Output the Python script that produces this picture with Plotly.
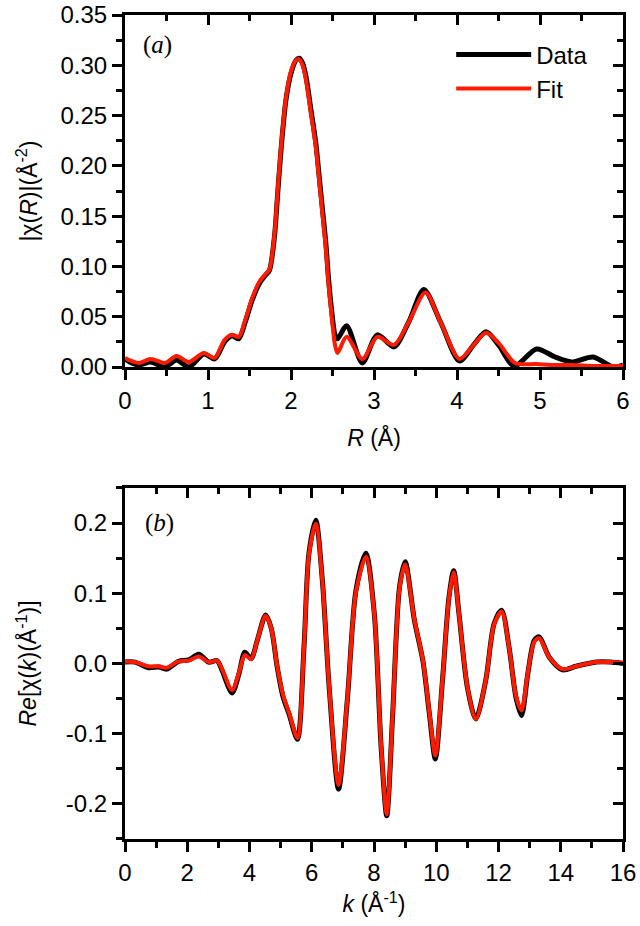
import plotly.graph_objects as go

# ---------------- data: panel (a) |chi(R)| ----------------
R_data = [0, 0.08, 0.17, 0.31, 0.48, 0.62, 0.77, 0.95, 1.08, 1.2, 1.29, 1.37, 1.45, 1.53, 1.62, 1.70,
          1.74, 1.80, 1.84, 1.88, 1.94, 2.00, 2.06, 2.10, 2.14, 2.18, 2.24, 2.30, 2.34, 2.38, 2.42,
          2.45, 2.49, 2.53, 2.56, 2.67, 2.86, 3.04, 3.24, 3.42, 3.60, 3.80, 4.03, 4.20, 4.35, 4.50,
          4.69, 4.96, 5.18, 5.38, 5.64, 5.88, 6.0]
chiR_data = [0.008, 0.004, 0.002, 0.005, 0.0, 0.007, 0.0, 0.013, 0.008, 0.025, 0.031, 0.028, 0.045,
             0.066, 0.083, 0.092, 0.096, 0.129, 0.173, 0.216, 0.266, 0.292, 0.305, 0.307, 0.302,
             0.289, 0.256, 0.222, 0.189, 0.156, 0.123, 0.090, 0.056, 0.032, 0.028, 0.041, 0.004,
             0.032, 0.020, 0.045, 0.077, 0.045, 0.006, 0.022, 0.035, 0.022, 0.001, 0.018, 0.010,
             0.005, 0.010, 0.000, 0.002]
R_fit = [0, 0.08, 0.17, 0.31, 0.48, 0.62, 0.77, 0.95, 1.08, 1.2, 1.29, 1.37, 1.45, 1.53, 1.62, 1.70,
         1.74, 1.80, 1.84, 1.88, 1.94, 2.00, 2.06, 2.10, 2.14, 2.18, 2.24, 2.30, 2.34, 2.38, 2.42,
         2.45, 2.49, 2.53, 2.56, 2.67, 2.86, 3.04, 3.24, 3.42, 3.62, 3.80, 4.03, 4.20, 4.35, 4.50,
         4.70, 4.96, 5.18, 5.38, 5.64, 5.88, 6.0]
chiR_fit = [0.009, 0.006, 0.004, 0.008, 0.004, 0.011, 0.005, 0.014, 0.009, 0.027, 0.032, 0.030, 0.047,
            0.068, 0.085, 0.093, 0.097, 0.131, 0.176, 0.219, 0.268, 0.294, 0.305, 0.306, 0.300,
            0.286, 0.252, 0.218, 0.185, 0.151, 0.118, 0.085, 0.050, 0.022, 0.014, 0.030, 0.008,
            0.030, 0.022, 0.045, 0.074, 0.045, 0.008, 0.022, 0.034, 0.024, 0.004, 0.003, 0.002,
            0.002, 0.001, 0.001, 0.001]

# ---------------- data: panel (b) Re[chi(k)] ----------------
k_vals = [0, 0.32, 0.75, 1.08, 1.34, 1.72, 2.04, 2.37, 2.69, 2.96, 3.12, 3.44, 3.66, 3.85, 4.05,
          4.25, 4.52, 4.70, 4.89, 5.08, 5.27, 5.54, 5.75, 5.91, 6.13, 6.34, 6.56, 6.86, 7.15, 7.42,
          7.74, 8.01, 8.23, 8.41, 8.60, 8.82, 9.0, 9.30, 9.57, 9.78, 9.97, 10.2, 10.41, 10.56,
          10.73, 11.0, 11.27, 11.59, 11.86, 12.10, 12.34, 12.56, 12.74, 12.94, 13.15, 13.31,
          13.63, 14.06, 14.49, 15.14, 15.6, 16.0]
chik_data = [0.002, 0.002, -0.006, -0.005, -0.008, 0.003, 0.005, 0.013, 0.002, 0.004, -0.010,
             -0.042, -0.015, 0.016, 0.007, 0.033, 0.069, 0.050, -0.005, -0.048, -0.072, -0.108,
             0.023, 0.157, 0.204, 0.119, -0.034, -0.179, -0.048, 0.104, 0.157, 0.071, -0.120,
             -0.217, -0.072, 0.109, 0.145, 0.061, 0.004, -0.072, -0.136, -0.024, 0.095, 0.132,
             0.071, -0.034, -0.079, -0.024, 0.057, 0.076, 0.023, -0.048, -0.074, -0.015, 0.033,
             0.038, 0.009, -0.009, -0.004, 0.002, 0.002, 0.0]
chik_fit = [0.003, 0.002, -0.004, -0.004, -0.006, 0.003, 0.004, 0.010, 0.002, 0.004, -0.008,
            -0.038, -0.013, 0.012, 0.006, 0.033, 0.068, 0.050, -0.004, -0.045, -0.070, -0.106,
            0.023, 0.155, 0.199, 0.118, -0.033, -0.173, -0.047, 0.102, 0.152, 0.070, -0.118,
            -0.215, -0.071, 0.107, 0.141, 0.062, 0.005, -0.070, -0.131, -0.023, 0.094, 0.130,
            0.071, -0.033, -0.079, -0.024, 0.056, 0.074, 0.023, -0.046, -0.067, -0.014, 0.031,
            0.036, 0.009, -0.008, -0.004, 0.002, 0.002, 0.001]

y2_ticks = [-0.2, -0.1, 0.0, 0.1, 0.2]
y2_ticktext = ["-0.2", "-0.1", "0.0", "0.1", "0.2"]

FONT = "Liberation Sans, Arial, sans-serif"
SERIF = "Liberation Serif, Times New Roman, serif"
BLACK = "#000000"
RED = "#ff1a00"

fig = go.Figure()
fig.add_trace(go.Scatter(x=R_data, y=chiR_data, mode="lines", name="Data",
                         line=dict(color=BLACK, width=5, shape="spline", smoothing=0.8),
                         xaxis="x", yaxis="y"))
fig.add_trace(go.Scatter(x=R_fit, y=chiR_fit, mode="lines", name="Fit",
                         line=dict(color=RED, width=4, shape="spline", smoothing=0.8),
                         xaxis="x", yaxis="y"))
fig.add_trace(go.Scatter(x=k_vals, y=chik_data, mode="lines", name="Data", showlegend=False,
                         line=dict(color=BLACK, width=5, shape="spline", smoothing=0.8),
                         xaxis="x2", yaxis="y2"))
fig.add_trace(go.Scatter(x=k_vals, y=chik_fit, mode="lines", name="Fit", showlegend=False,
                         line=dict(color=RED, width=4, shape="spline", smoothing=0.8),
                         xaxis="x2", yaxis="y2"))
# dummy traces so the mirrored (inside-tick) axes are drawn
fig.add_trace(go.Scatter(x=[None], y=[None], xaxis="x3", yaxis="y3", showlegend=False, hoverinfo="skip"))
fig.add_trace(go.Scatter(x=[None], y=[None], xaxis="x4", yaxis="y4", showlegend=False, hoverinfo="skip"))

tickfont = dict(family=FONT, size=24, color=BLACK)
common = dict(showgrid=False, zeroline=False, showline=True, linewidth=3, linecolor=BLACK,
              tickcolor=BLACK, tickwidth=3, ticklen=10, tickfont=tickfont, automargin=False)

top_dom = [0.5728, 1.0]
bot_dom = [0.0, 0.426]

fig.update_layout(
    width=640, height=926,
    margin=dict(l=125, r=17, t=15, b=87),
    paper_bgcolor="white", plot_bgcolor="white",
    font=dict(family=FONT, color=BLACK),
    xaxis=dict(domain=[0, 1], anchor="y", range=[0, 6], dtick=1, tick0=0, ticks="outside",
               minor=dict(dtick=0.5, ticklen=6, tickwidth=3, ticks="outside", tickcolor=BLACK),
               title=dict(text="<i>R</i> (Å)", font=dict(family=FONT, size=23), standoff=18),
               **common),
    yaxis=dict(domain=top_dom, anchor="x", range=[0, 0.35], dtick=0.05, tick0=0, ticks="outside",
               tickformat=".2f",
               minor=dict(dtick=0.025, ticklen=6, tickwidth=3, ticks="outside", tickcolor=BLACK),
               title=dict(text="|χ(<i>R</i>)|(Å<sup>-2</sup>)", font=dict(family=FONT, size=23), standoff=17),
               **common),
    xaxis3=dict(overlaying="x", anchor="y", side="top", range=[0, 6], dtick=1, tick0=0,
                ticks="inside", showticklabels=False,
                minor=dict(dtick=0.5, ticklen=6, tickwidth=3, ticks="inside", tickcolor=BLACK),
                **common),
    yaxis3=dict(overlaying="y", anchor="x", side="right", range=[0, 0.35], dtick=0.05, tick0=0,
                ticks="inside", showticklabels=False,
                minor=dict(dtick=0.025, ticklen=6, tickwidth=3, ticks="inside", tickcolor=BLACK),
                **common),
    xaxis2=dict(domain=[0, 1], anchor="y2", range=[0, 16], dtick=2, tick0=0, ticks="outside",
                minor=dict(dtick=1, ticklen=6, tickwidth=3, ticks="outside", tickcolor=BLACK),
                title=dict(text="<i>k</i> (Å<sup>-1</sup>)", font=dict(family=FONT, size=23), standoff=12),
                **common),
    yaxis2=dict(domain=bot_dom, anchor="x2", range=[-0.25, 0.25], tickvals=y2_ticks,
                ticktext=y2_ticktext, ticks="outside",
                minor=dict(dtick=0.05, tick0=0, ticklen=6, tickwidth=3, ticks="outside", tickcolor=BLACK),
                title=dict(text="<i>Re</i>[χ(<i>k</i>)(Å<sup>-1</sup>)]", font=dict(family=FONT, size=23), standoff=23),
                **common),
    xaxis4=dict(overlaying="x2", anchor="y2", side="top", range=[0, 16], dtick=2, tick0=0,
                ticks="inside", showticklabels=False,
                minor=dict(dtick=1, ticklen=6, tickwidth=3, ticks="inside", tickcolor=BLACK),
                **common),
    yaxis4=dict(overlaying="y2", anchor="x2", side="right", range=[-0.25, 0.25], tickvals=y2_ticks,
                ticks="inside", showticklabels=False,
                minor=dict(dtick=0.05, tick0=0, ticklen=6, tickwidth=3, ticks="inside", tickcolor=BLACK),
                **common),
    legend=dict(x=0.655, y=0.979, xanchor="left", yanchor="top", bgcolor="rgba(0,0,0,0)",
                font=dict(family=FONT, size=24, color=BLACK), itemwidth=75, tracegroupgap=0),
    showlegend=True,
    annotations=[
        dict(text="(<i>a</i>)", x=0.066, y=0.9636, xref="paper", yref="paper", showarrow=False,
             xanchor="center", yanchor="middle",
             font=dict(family=SERIF, size=25, color=BLACK)),
        dict(text="(<i>b</i>)", x=0.07, y=0.3835, xref="paper", yref="paper", showarrow=False,
             xanchor="center", yanchor="middle",
             font=dict(family=SERIF, size=25, color=BLACK)),
    ],
)

fig.write_html("out.html")
